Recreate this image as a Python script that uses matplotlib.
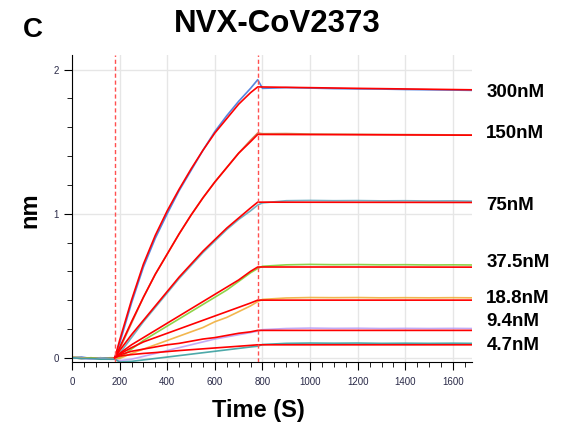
import numpy as np
import matplotlib
matplotlib.use("Agg")
import matplotlib.pyplot as plt
from matplotlib.ticker import MultipleLocator

plt.rcParams['font.family'] = ['Liberation Sans', 'DejaVu Sans']

# Datos (nm frente a tiempo en s)
concs = ['300nM', '150nM', '75nM', '37.5nM', '18.8nM', '9.4nM', '4.7nM']
t_base = [0, 40, 80, 120, 160, 180]
t_assoc = [180, 200, 250, 300, 350, 400, 450, 500, 550, 600, 650, 700, 750, 780]
t_dissoc = [780, 800, 900, 1000, 1100, 1200, 1300, 1400, 1500, 1600, 1680]
t_fit_dissoc = [780, 1200, 1680]

base_data = {
    '300nM': [0.0, 0.005, -0.005, 0.0, -0.005, 0.0],
    '150nM': [0.0, -0.005, 0.0, -0.005, 0.0, 0.0],
    '75nM': [0.005, 0.0, -0.005, 0.0, -0.005, -0.01],
    '37.5nM': [0.0, -0.005, 0.0, -0.01, -0.005, -0.01],
    '18.8nM': [0.005, 0.0, -0.005, -0.005, -0.01, -0.01],
    '9.4nM': [0.0, -0.005, -0.01, -0.005, -0.01, -0.01],
    '4.7nM': [0.0, -0.005, -0.005, -0.01, -0.01, -0.01],
}

fit_assoc = {
    '300nM': [0, 0.12, 0.40, 0.65, 0.85, 1.02, 1.17, 1.31, 1.44, 1.56, 1.66, 1.76, 1.84, 1.88],
    '150nM': [0, 0.07, 0.25, 0.42, 0.58, 0.72, 0.86, 0.99, 1.11, 1.22, 1.32, 1.42, 1.50, 1.55],
    '75nM': [0, 0.05, 0.16, 0.26, 0.36, 0.46, 0.56, 0.65, 0.74, 0.82, 0.90, 0.97, 1.04, 1.08],
    '37.5nM': [0, 0.03, 0.09, 0.14, 0.19, 0.24, 0.29, 0.34, 0.39, 0.44, 0.49, 0.54, 0.60, 0.63],
    '18.8nM': [0, 0.025, 0.07, 0.11, 0.14, 0.17, 0.20, 0.23, 0.26, 0.29, 0.32, 0.35, 0.38, 0.40],
    '9.4nM': [0, 0.02, 0.045, 0.06, 0.075, 0.09, 0.10, 0.115, 0.13, 0.14, 0.155, 0.17, 0.18, 0.19],
    '4.7nM': [0, 0.012, 0.022, 0.03, 0.036, 0.043, 0.05, 0.056, 0.062, 0.068, 0.074, 0.08, 0.086, 0.09],
}
fit_dissoc = {
    '300nM': [1.88, 1.87, 1.86],
    '150nM': [1.55, 1.548, 1.545],
    '75nM': [1.08, 1.079, 1.078],
    '37.5nM': [0.63, 0.63, 0.629],
    '18.8nM': [0.40, 0.40, 0.40],
    '9.4nM': [0.19, 0.19, 0.19],
    '4.7nM': [0.09, 0.09, 0.09],
}

data_assoc = {
    '300nM': [0, 0.10, 0.38, 0.63, 0.83, 1.00, 1.16, 1.30, 1.44, 1.57, 1.68, 1.78, 1.87, 1.93],
    '150nM': [0, 0.06, 0.24, 0.42, 0.58, 0.72, 0.86, 0.99, 1.11, 1.22, 1.32, 1.42, 1.51, 1.56],
    '75nM': [-0.01, 0.03, 0.14, 0.25, 0.35, 0.45, 0.55, 0.64, 0.73, 0.81, 0.89, 0.96, 1.02, 1.06],
    '37.5nM': [-0.01, 0.0, 0.06, 0.12, 0.17, 0.22, 0.27, 0.32, 0.37, 0.42, 0.47, 0.53, 0.59, 0.62],
    '18.8nM': [-0.01, -0.005, 0.03, 0.06, 0.09, 0.12, 0.15, 0.18, 0.21, 0.25, 0.28, 0.32, 0.36, 0.39],
    '9.4nM': [-0.01, -0.02, -0.01, 0.01, 0.03, 0.05, 0.07, 0.09, 0.11, 0.13, 0.145, 0.16, 0.175, 0.185],
    '4.7nM': [-0.01, -0.03, -0.025, -0.015, -0.005, 0.005, 0.015, 0.025, 0.035, 0.045, 0.055, 0.065, 0.075, 0.08],
}
data_dissoc = {
    '300nM': [1.93, 1.87, 1.875, 1.872, 1.868, 1.866, 1.865, 1.862, 1.86, 1.858, 1.856],
    '150nM': [1.56, 1.555, 1.556, 1.553, 1.552, 1.551, 1.55, 1.549, 1.548, 1.547, 1.546],
    '75nM': [1.06, 1.075, 1.09, 1.092, 1.09, 1.091, 1.089, 1.09, 1.088, 1.089, 1.087],
    '37.5nM': [0.62, 0.635, 0.645, 0.648, 0.646, 0.647, 0.645, 0.646, 0.644, 0.645, 0.644],
    '18.8nM': [0.39, 0.405, 0.415, 0.418, 0.417, 0.418, 0.416, 0.417, 0.416, 0.417, 0.416],
    '9.4nM': [0.185, 0.195, 0.203, 0.206, 0.204, 0.205, 0.203, 0.204, 0.203, 0.204, 0.203],
    '4.7nM': [0.08, 0.092, 0.1, 0.102, 0.101, 0.102, 0.1, 0.101, 0.1, 0.101, 0.1],
}

colores = {
    '300nM': '#3a6fd8',
    '150nM': '#c8703a',
    '75nM': '#5aa3b8',
    '37.5nM': '#7ccc2a',
    '18.8nM': '#f0aa30',
    '9.4nM': '#b89cf5',
    '4.7nM': '#2e9a9a',
}
label_y = [1.84, 1.556, 1.056, 0.66, 0.41, 0.25, 0.083]

fig = plt.figure(figsize=(5.65, 4.28), dpi=100)
ax = fig.add_axes([0.1274, 0.154, 0.708, 0.717])

# Curvas experimentales
for c in concs:
    t = t_base + t_assoc[1:] + t_dissoc[1:]
    y = base_data[c] + data_assoc[c][1:] + data_dissoc[c][1:]
    ax.plot(t, y, color=colores[c], lw=1.2, alpha=0.85, zorder=2)

# Ajustes (rojo)
for c in concs:
    t = t_assoc + t_fit_dissoc[1:]
    y = fit_assoc[c] + fit_dissoc[c][1:]
    ax.plot(t, y, color='#ff0000', lw=1.2, zorder=3)

for xv in [180, 780]:
    ax.axvline(xv, color='#ff5050', lw=1, ls=(0, (3, 2)), zorder=4)

ax.set_xlim(0, 1680)
ax.set_ylim(-0.03, 2.1)
ax.xaxis.set_major_locator(MultipleLocator(200))
ax.xaxis.set_minor_locator(MultipleLocator(50))
ax.yaxis.set_major_locator(MultipleLocator(1))
ax.yaxis.set_minor_locator(MultipleLocator(0.2))
ax.grid(True, which='major', color='#e6e6e6', lw=1, zorder=0)
ax.set_axisbelow(True)
for s in ['top', 'right']:
    ax.spines[s].set_visible(False)
ax.tick_params(axis='both', which='major', length=6, labelsize=7, labelcolor='#2a2a48')
ax.tick_params(axis='x', which='major', pad=5)
ax.tick_params(axis='both', which='minor', length=3.5)

fig.text(0.458, 0.042, 'Time (S)', fontsize=17, fontweight='bold', ha='center', va='center')
fig.text(0.052, 0.509, 'nm', fontsize=17, fontweight='bold', ha='center', va='center', rotation=90)

for c, yl in zip(concs, label_y):
    ax.text(1740, yl, c, fontsize=13.5, fontweight='bold', va='center', ha='left', clip_on=False)

fig.text(0.49, 0.945, 'NVX-CoV2373', fontsize=22.5, fontweight='bold', ha='center', va='center')
fig.text(0.059, 0.93, 'C', fontsize=20, fontweight='bold', ha='center', va='center')

fig.savefig('out.png', dpi=100)
